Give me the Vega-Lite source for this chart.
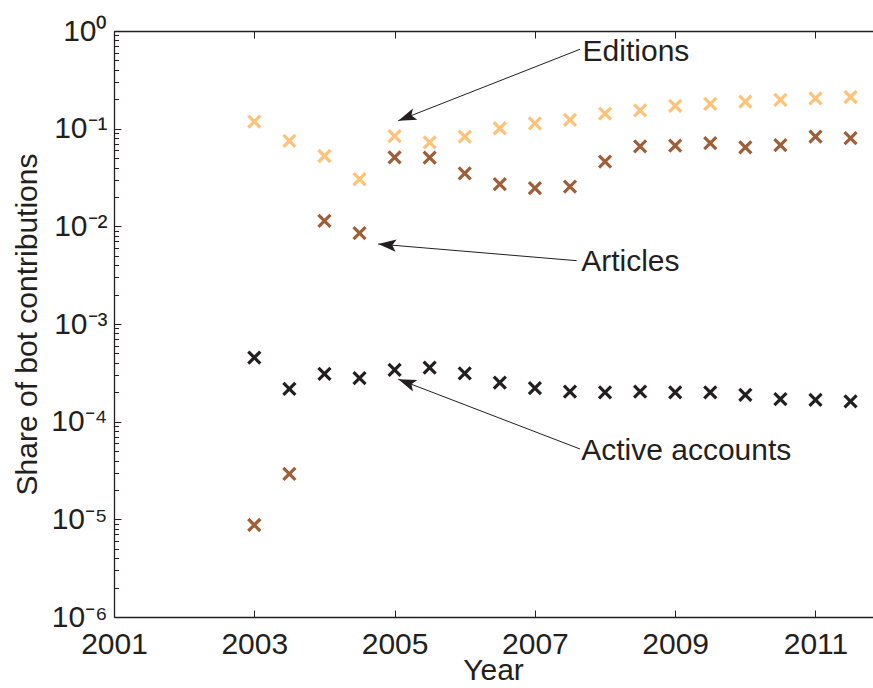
{
  "$schema": "https://vega.github.io/schema/vega-lite/v6.json",
  "width": 759,
  "height": 586,
  "autosize": {"type": "none"},
  "padding": {"left": 114, "top": 31, "right": 0, "bottom": 71},
  "background": "white",
  "config": {
    "view": {"stroke": null},
    "font": "Liberation Sans",
    "axis": {
      "domainColor": "#231F20",
      "tickColor": "#231F20",
      "labelColor": "#231F20",
      "titleColor": "#231F20",
      "labelFont": "Liberation Sans",
      "titleFont": "Liberation Sans",
      "labelFontSize": 30,
      "titleFontSize": 30,
      "titleFontWeight": "normal",
      "grid": false,
      "labelFlush": false,
      "labelOverlap": false,
      "labelBound": false,
      "domainWidth": 1.3,
      "tickWidth": 1
    }
  },
  "datasets": {
    "pts": [
      {"year": 2003.0, "share": 0.118, "series": "Editions"},
      {"year": 2003.5, "share": 0.0748, "series": "Editions"},
      {"year": 2004.0, "share": 0.0525, "series": "Editions"},
      {"year": 2004.5, "share": 0.0305, "series": "Editions"},
      {"year": 2005.0, "share": 0.0841, "series": "Editions"},
      {"year": 2005.5, "share": 0.0725, "series": "Editions"},
      {"year": 2006.0, "share": 0.0828, "series": "Editions"},
      {"year": 2006.5, "share": 0.101, "series": "Editions"},
      {"year": 2007.0, "share": 0.1135, "series": "Editions"},
      {"year": 2007.5, "share": 0.1227, "series": "Editions"},
      {"year": 2008.0, "share": 0.1424, "series": "Editions"},
      {"year": 2008.5, "share": 0.154, "series": "Editions"},
      {"year": 2009.0, "share": 0.1707, "series": "Editions"},
      {"year": 2009.5, "share": 0.179, "series": "Editions"},
      {"year": 2010.0, "share": 0.189, "series": "Editions"},
      {"year": 2010.5, "share": 0.1967, "series": "Editions"},
      {"year": 2011.0, "share": 0.2047, "series": "Editions"},
      {"year": 2011.5, "share": 0.211, "series": "Editions"},
      {"year": 2003.0, "share": 0.00000875, "series": "Articles"},
      {"year": 2003.5, "share": 0.0000292, "series": "Articles"},
      {"year": 2004.0, "share": 0.01135, "series": "Articles"},
      {"year": 2004.5, "share": 0.0085, "series": "Articles"},
      {"year": 2005.0, "share": 0.0509, "series": "Articles"},
      {"year": 2005.5, "share": 0.0505, "series": "Articles"},
      {"year": 2006.0, "share": 0.0349, "series": "Articles"},
      {"year": 2006.5, "share": 0.027, "series": "Articles"},
      {"year": 2007.0, "share": 0.02455, "series": "Articles"},
      {"year": 2007.5, "share": 0.0255, "series": "Articles"},
      {"year": 2008.0, "share": 0.0459, "series": "Articles"},
      {"year": 2008.5, "share": 0.066, "series": "Articles"},
      {"year": 2009.0, "share": 0.067, "series": "Articles"},
      {"year": 2009.5, "share": 0.071, "series": "Articles"},
      {"year": 2010.0, "share": 0.0645, "series": "Articles"},
      {"year": 2010.5, "share": 0.068, "series": "Articles"},
      {"year": 2011.0, "share": 0.0828, "series": "Articles"},
      {"year": 2011.5, "share": 0.0798, "series": "Articles"},
      {"year": 2003.0, "share": 0.000453, "series": "Active accounts"},
      {"year": 2003.5, "share": 0.000217, "series": "Active accounts"},
      {"year": 2004.0, "share": 0.000308, "series": "Active accounts"},
      {"year": 2004.5, "share": 0.000279, "series": "Active accounts"},
      {"year": 2005.0, "share": 0.000339, "series": "Active accounts"},
      {"year": 2005.5, "share": 0.000358, "series": "Active accounts"},
      {"year": 2006.0, "share": 0.000313, "series": "Active accounts"},
      {"year": 2006.5, "share": 0.000251, "series": "Active accounts"},
      {"year": 2007.0, "share": 0.00022, "series": "Active accounts"},
      {"year": 2007.5, "share": 0.000203, "series": "Active accounts"},
      {"year": 2008.0, "share": 0.0002, "series": "Active accounts"},
      {"year": 2008.5, "share": 0.000203, "series": "Active accounts"},
      {"year": 2009.0, "share": 0.0002, "series": "Active accounts"},
      {"year": 2009.5, "share": 0.0002, "series": "Active accounts"},
      {"year": 2010.0, "share": 0.000188, "series": "Active accounts"},
      {"year": 2010.5, "share": 0.00017, "series": "Active accounts"},
      {"year": 2011.0, "share": 0.000167, "series": "Active accounts"},
      {"year": 2011.5, "share": 0.000161, "series": "Active accounts"}
    ],
    "ann": [
      {"label": "Editions", "tx": 2007.68, "ty": 0.609, "x1": 2007.643, "y1": 0.65, "x2": 2005.053, "y2": 0.1207},
      {"label": "Articles", "tx": 2007.66, "ty": 0.00431, "x1": 2007.595, "y1": 0.00445, "x2": 2004.766, "y2": 0.00659},
      {"label": "Active accounts", "tx": 2007.66, "ty": 0.0000501, "x1": 2007.643, "y1": 0.0000525, "x2": 2005.053, "y2": 0.000272}
    ]
  },
  "resolve": {"axis": {"x": "independent", "y": "independent"}},
  "layer": [
    {
      "data": {"name": "pts"},
      "mark": {"type": "point", "shape": "M-1,-1L1,1M-1,1L1,-1", "filled": false, "strokeWidth": 3.2, "size": 144, "opacity": 1},
      "encoding": {
        "x": {
          "field": "year", "type": "quantitative",
          "scale": {"domain": [2001, 2011.82], "nice": false, "zero": false},
          "axis": {
            "orient": "bottom",
            "values": [2001, 2003, 2005, 2007, 2009, 2011],
            "format": "d",
            "tickSize": -7,
            "labelPadding": 19,
            "title": "Year",
            "titleX": 379,
            "titleY": 53,
            "titleBaseline": "middle"
          }
        },
        "y": {
          "field": "share", "type": "quantitative",
          "scale": {"type": "log", "domain": [0.000001, 1], "nice": false},
          "axis": {
            "orient": "left",
            "values": [0.000001, 0.00001, 0.0001, 0.001, 0.01, 0.1, 1],
            "labelExpr": "['10⁰','10⁻¹','10⁻²','10⁻³','10⁻⁴','10⁻⁵','10⁻⁶'][round(-log(datum.value)/LN10)]",
            "tickSize": -7,
            "labelPadding": 14,
            "title": "Share of bot contributions",
            "titleX": -87,
            "titleY": 293,
            "titleAngle": -90,
            "titleAlign": "center",
            "titleBaseline": "middle"
          }
        },
        "color": {
          "field": "series", "type": "nominal",
          "scale": {"domain": ["Editions", "Articles", "Active accounts"], "range": ["#FEC278", "#9E5F38", "#231F20"]},
          "legend": null
        }
      }
    },
    {
      "data": {"name": "pts"},
      "mark": {"type": "point", "opacity": 0},
      "encoding": {
        "x": {"field": "year", "type": "quantitative", "axis": {"orient": "top", "values": [2001, 2003, 2005, 2007, 2009, 2011], "labels": false, "tickSize": -7, "title": null}},
        "y": {
          "field": "share", "type": "quantitative",
          "axis": {
            "orient": "left",
            "values": [0.000002, 0.000003, 0.000004, 0.000005, 0.000006, 0.000007, 0.000008, 0.000009,
                       0.00002, 0.00003, 0.00004, 0.00005, 0.00006, 0.00007, 0.00008, 0.00009,
                       0.0002, 0.0003, 0.0004, 0.0005, 0.0006, 0.0007, 0.0008, 0.0009,
                       0.002, 0.003, 0.004, 0.005, 0.006, 0.007, 0.008, 0.009,
                       0.02, 0.03, 0.04, 0.05, 0.06, 0.07, 0.08, 0.09,
                       0.2, 0.3, 0.4, 0.5, 0.6, 0.7, 0.8, 0.9],
            "labels": false,
            "domain": false,
            "tickSize": -4.5,
            "title": null
          }
        }
      }
    },
    {
      "data": {"name": "ann"},
      "mark": {"type": "rule", "color": "#231F20", "strokeWidth": 1},
      "encoding": {
        "x": {"field": "x1", "type": "quantitative", "axis": null},
        "y": {"field": "y1", "type": "quantitative", "axis": null},
        "x2": {"field": "x2"},
        "y2": {"field": "y2"}
      }
    },
    {
      "data": {"name": "ann"},
      "transform": [{"filter": "datum.label == 'Editions'"}],
      "mark": {"type": "point", "shape": "M0,0L-1,-0.34L-0.78,0L-1,0.34Z", "filled": true, "color": "#231F20", "opacity": 1, "size": 1300, "angle": 158.6},
      "encoding": {
        "x": {"field": "x2", "type": "quantitative", "axis": null},
        "y": {"field": "y2", "type": "quantitative", "axis": null}
      }
    },
    {
      "data": {"name": "ann"},
      "transform": [{"filter": "datum.label == 'Articles'"}],
      "mark": {"type": "point", "shape": "M0,0L-1,-0.34L-0.78,0L-1,0.34Z", "filled": true, "color": "#231F20", "opacity": 1, "size": 1300, "angle": 184.8},
      "encoding": {
        "x": {"field": "x2", "type": "quantitative", "axis": null},
        "y": {"field": "y2", "type": "quantitative", "axis": null}
      }
    },
    {
      "data": {"name": "ann"},
      "transform": [{"filter": "datum.label == 'Active accounts'"}],
      "mark": {"type": "point", "shape": "M0,0L-1,-0.34L-0.78,0L-1,0.34Z", "filled": true, "color": "#231F20", "opacity": 1, "size": 1300, "angle": 201},
      "encoding": {
        "x": {"field": "x2", "type": "quantitative", "axis": null},
        "y": {"field": "y2", "type": "quantitative", "axis": null}
      }
    },
    {
      "data": {"name": "ann"},
      "mark": {"type": "text", "align": "left", "baseline": "middle", "font": "Liberation Sans", "fontSize": 30, "color": "#231F20"},
      "encoding": {
        "x": {"field": "tx", "type": "quantitative", "axis": null},
        "y": {"field": "ty", "type": "quantitative", "axis": null},
        "text": {"field": "label"}
      }
    }
  ]
}
